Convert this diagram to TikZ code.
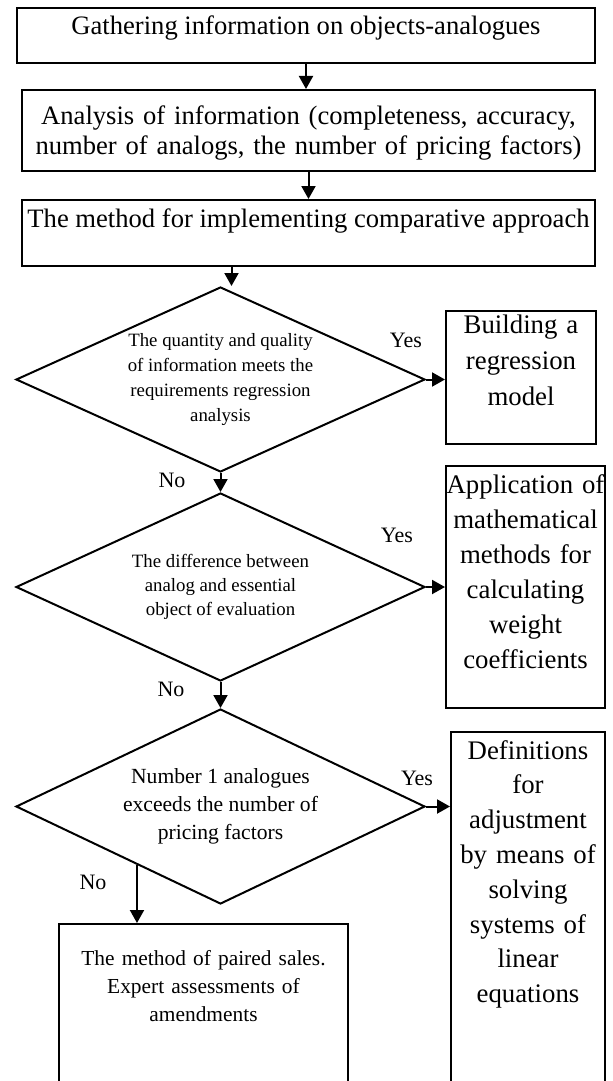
\documentclass[tikz,border=0pt]{standalone}
\usepackage{fontspec}
\setmainfont{Liberation Serif}
\usetikzlibrary{arrows.meta, shapes.geometric}

\begin{document}
\begin{tikzpicture}[x=0.5pt, y=-0.5pt]
	\tikzstyle{every node} = [inner sep=0pt, align=center]
	\tikzstyle{box} = [draw, line width=1pt, rectangle, anchor=north west]
	\tikzstyle{dia} = [draw, line width=1pt, diamond, minimum width=204.5pt, aspect=2.2]
	\tikzstyle{arr} = [line width=1pt, -{Triangle[length=6.5pt, width=7pt]}]
	\tikzstyle{yn} = [font=\fontsize{11}{13}\selectfont]
	\useasboundingbox (0,0) rectangle (612,1081);
	\node[box, minimum width=289pt, text height=13.5pt, text depth=14pt, font=\fontsize{13.3}{15}\selectfont] (gather) at (16,7) {Gathering information on objects-analogues};
	\node[box, text width=286.5pt, text height=17.5pt, text depth=23pt, font=\fontsize{13.3}{15}\selectfont] (anal) at (21,89) {Analysis of information (completeness, accuracy,\\number of analogs, the number of pricing factors)};
	\node[box, minimum width=286.5pt, text height=13.5pt, text depth=19.5pt, font=\fontsize{13.3}{15}\selectfont] (meth) at (21,199) {The method for implementing comparative approach};
	\node[dia, minimum height=92.5pt, font=\fontsize{9.4}{12.5}\selectfont] (d1) at (220.5,379.5) {The quantity and quality\\of information meets the\\requirements regression\\analysis};
	\node[dia, minimum height=94pt, font=\fontsize{9.4}{12}\selectfont] (d2) at (220.5,587) {The difference between\\analog and essential\\object of evaluation};
	\node[dia, minimum height=97.5pt, font=\fontsize{10.8}{14}\selectfont] (d3) at (220.5,806.5) {Number 1 analogues\\exceeds the number of\\pricing factors};
	\node[box, text width=75pt, text height=11pt, text depth=55.5pt, font=\fontsize{13.4}{18}\selectfont] (build) at (445,310) {Building a\\regression\\model};
	\node[box, text width=79.5pt, text height=13.5pt, text depth=107.5pt, font=\fontsize{13.4}{17.5}\selectfont] (app) at (445,465) {Application of\\mathematical\\methods for\\calculating\\weight\\coefficients};
	\node[box, text width=77pt, text height=13.5pt, text depth=171pt, font=\fontsize{13.4}{17.4}\selectfont] (def) at (450,731) {Definitions\\for\\adjustment\\by means of\\solving\\systems of\\linear\\equations};
	\node[box, text width=144.5pt, text height=20.5pt, text depth=68pt, font=\fontsize{10.7}{14}\selectfont] (paired) at (58,923) {The method of paired sales.\\Expert assessments of\\amendments};
	\draw[arr] (gather.south) -- (gather.south |- anal.north);
	\draw[arr] (anal.south) -- (anal.south |- meth.north);
	\draw[arr] ([xshift=5.5pt]d1.north |- meth.south) -- ([xshift=5.5pt]d1.north);
	\draw[arr] (d1.south) -- (d2.north); \draw[arr] (d2.south) -- (d3.north);
	\draw[arr] (d1.east) -- (d1.east -| build.west);
	\draw[arr] (d2.east) -- (d2.east -| app.west);
	\draw[arr] (d3.east) -- (d3.east -| def.west);
	\draw[arr] (d3.215) -- (d3.215 |- paired.north);
	\node[yn] (yes1) at (406,340) {Yes}; \node[yn] (yes2) at (397,535) {Yes}; \node[yn] (yes3) at (417,778) {Yes};
	\node[yn] (no1) at (172,480) {No}; \node[yn] (no2) at (171,689) {No}; \node[yn] (no3) at (93,882) {No};
\end{tikzpicture}
\end{document}
